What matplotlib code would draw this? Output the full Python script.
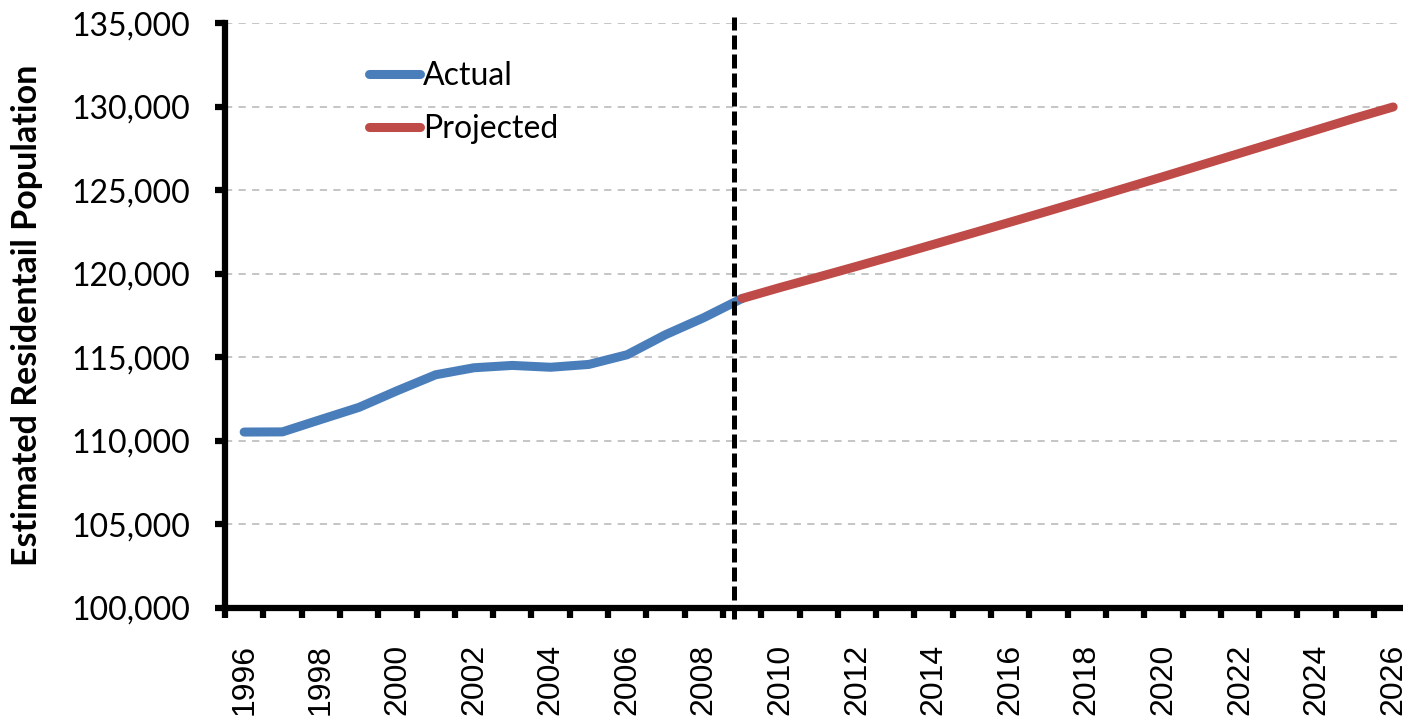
import matplotlib
matplotlib.use("Agg")
import matplotlib.pyplot as plt
from matplotlib.ticker import FixedLocator, FuncFormatter, NullFormatter

# data
actual_years = list(range(1996, 2010))
actual_pop = [110520, 110530, 111270, 112000, 113000, 113950, 114370,
              114510, 114400, 114570, 115150, 116350, 117370, 118520]

proj_years = list(range(2009, 2027))
proj_pop = [118520, 119180, 119810, 120450, 121100, 121760, 122420, 123090,
            123760, 124440, 125130, 125820, 126520, 127220, 127920, 128620,
            129320, 129990]

split_year = 2008.8
label_years = list(range(1996, 2027, 2))
y_ticks = list(range(100000, 135001, 5000))

blue = '#4A7EBB'
red = '#BE4B48'

fig = plt.figure(figsize=(14.03, 7.19), dpi=100)
ax = fig.add_axes([225 / 1403, 1 - 607.7 / 719, 31 * 38.3 / 1403, (607.7 - 23.3) / 719])

ax.plot(actual_years, actual_pop, color=blue, lw=6.5, solid_capstyle='round',
        solid_joinstyle='round', label='Actual', zorder=3)
ax.plot(proj_years, proj_pop, color=red, lw=6.5, solid_capstyle='round',
        solid_joinstyle='round', label='Projected', zorder=4)

ax.axvline(split_year, ymin=-0.02, ymax=1.01, color='black', lw=3.6,
           linestyle=(0, (2.8, 1.0)), clip_on=False, zorder=5)

ax.set_xlim(1995.5, 2026.5)
ax.set_ylim(100000, 135000)

# category-style axis: ticks between years, labels on even years
ax.xaxis.set_major_locator(FixedLocator([y - 0.5 for y in range(1996, 2028)]))
ax.xaxis.set_major_formatter(NullFormatter())
ax.xaxis.set_minor_locator(FixedLocator(label_years))
ax.xaxis.set_minor_formatter(FuncFormatter(lambda v, p: str(int(round(v)))))
ax.tick_params(axis='x', which='major', direction='out', length=7, width=4.5, color='black')
ax.tick_params(axis='x', which='minor', length=0, pad=26, labelsize=23, labelrotation=90)
for t in ax.xaxis.get_minorticklabels():
    t.set_family('Liberation Sans')

ax.set_yticks(y_ticks)
ax.yaxis.set_major_formatter(FuncFormatter(lambda v, p: f'{int(v):,}'))
ax.tick_params(axis='y', direction='out', length=7, width=4.5, pad=18, labelsize=23)
for t in ax.get_yticklabels():
    t.set_family('Lato')

for s in ['top', 'right']:
    ax.spines[s].set_visible(False)
for s in ['left', 'bottom']:
    ax.spines[s].set_linewidth(4.5)

ax.grid(axis='y', color='#C0C0C0', lw=1.3, linestyle=(0, (4, 3.5)))
ax.set_axisbelow(True)

ax.set_ylabel('Estimated Residentail Population', fontsize=24.5, fontweight='bold',
              family='Lato')
ax.yaxis.set_label_coords(-(225 - 43) / (31 * 38.3), 0.5)

leg = ax.legend(loc='upper left', bbox_to_anchor=(0.097, 0.985), frameon=False,
                prop={'family': 'Lato', 'size': 23}, handlelength=1.6,
                handletextpad=0.1, labelspacing=0.73)

fig.savefig('out.png', dpi=100)
